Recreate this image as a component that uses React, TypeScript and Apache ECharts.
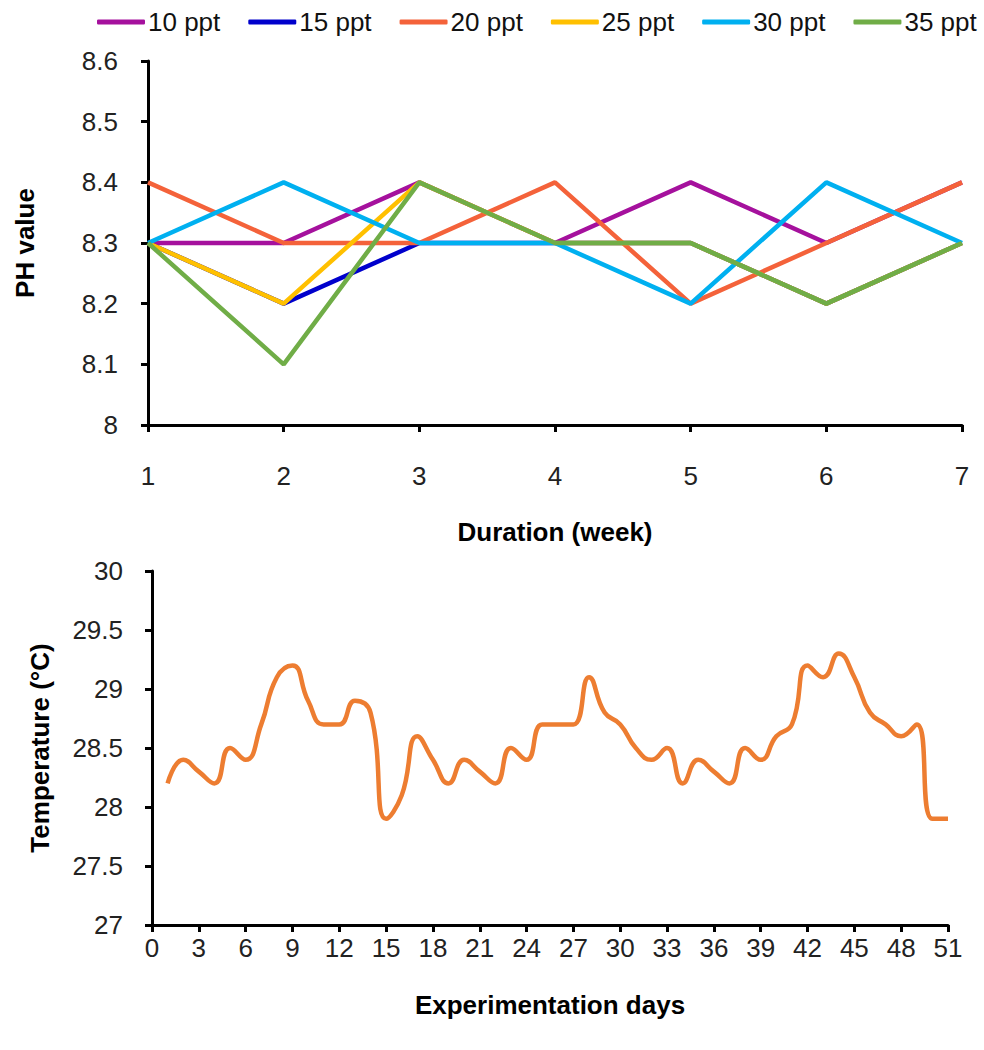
import React, { useEffect, useRef } from "react";
import * as echarts from "echarts";

const weeks = [1, 2, 3, 4, 5, 6, 7];
const ph10 = [8.3, 8.3, 8.4, 8.3, 8.4, 8.3, 8.4];
const ph15 = [8.3, 8.2, 8.3, 8.3, 8.3, 8.2, 8.3];
const ph20 = [8.4, 8.3, 8.3, 8.4, 8.2, 8.3, 8.4];
const ph25 = [8.3, 8.2, 8.4, 8.3, 8.3, 8.2, 8.3];
const ph30 = [8.3, 8.4, 8.3, 8.3, 8.2, 8.4, 8.3];
const ph35 = [8.3, 8.1, 8.4, 8.3, 8.3, 8.2, 8.3];
const phNames = ["10 ppt", "15 ppt", "20 ppt", "25 ppt", "30 ppt", "35 ppt"];
const phColors = ["#A5119D", "#0000CC", "#F4623A", "#FFC000", "#00B0F0", "#70AD47"];

const days = [
  1, 2, 3, 4, 5, 6, 7, 8, 9, 10, 11, 12, 13, 14, 15, 16, 17, 18, 19, 20, 21, 22, 23, 24, 25, 26,
  27, 28, 29, 30, 31, 32, 33, 34, 35, 36, 37, 38, 39, 40, 41, 42, 43, 44, 45, 46, 47, 48, 49, 50, 51,
];
const temps = [
  28.2, 28.4, 28.3, 28.2, 28.5, 28.4, 28.7, 29.1, 29.2, 28.9, 28.7, 28.7, 28.9, 28.8, 27.9, 28.1,
  28.6, 28.4, 28.2, 28.4, 28.3, 28.2, 28.5, 28.4, 28.7, 28.7, 28.7, 29.1, 28.8, 28.7, 28.5, 28.4,
  28.5, 28.2, 28.4, 28.3, 28.2, 28.5, 28.4, 28.6, 28.7, 29.2, 29.1, 29.3, 29.1, 28.8, 28.7, 28.6,
  28.7, 27.9, 27.9,
];

const FONT = "'Liberation Sans', Arial, sans-serif";
const FS = 26;

export default function App() {
  const ref = useRef<HTMLDivElement>(null);
  useEffect(() => {
    document.body.style.margin = "0";
    const chart = echarts.init(ref.current!, null, { renderer: "svg" });
    const phData = [ph10, ph15, ph20, ph25, ph30, ph35];
    const axisLine = { show: true, lineStyle: { color: "#000", width: 3 } };
    const axisTick = { show: true, length: 7, lineStyle: { color: "#000", width: 3 } };
    const label = { color: "#222", fontSize: FS, fontFamily: FONT };
    const nameStyle = { color: "#000", fontSize: FS, fontWeight: "bold" as const, fontFamily: FONT };
    chart.setOption({
      animation: false,
      backgroundColor: "#fff",
      textStyle: { fontFamily: FONT },
      legend: {
        data: phNames,
        left: 92,
        top: 4,
        icon: "roundRect",
        itemWidth: 48,
        itemHeight: 5,
        itemGap: 28,
        textStyle: { fontSize: FS, color: "#111", fontFamily: FONT, padding: [0, 0, 0, -2] },
      },
      grid: [
        { left: 148, right: 22, top: 61, height: 364 },
        { left: 152, right: 36, top: 571, height: 354 },
      ],
      xAxis: [
        {
          gridIndex: 0,
          type: "value",
          min: 1,
          max: 7,
          interval: 1,
          splitLine: { show: false },
          axisLine,
          axisTick,
          axisLabel: { ...label, margin: 38 },
          name: "Duration (week)",
          nameLocation: "middle",
          nameGap: 94,
          nameTextStyle: nameStyle,
        },
        {
          gridIndex: 1,
          type: "value",
          min: 0,
          max: 51,
          interval: 3,
          splitLine: { show: false },
          axisLine,
          axisTick,
          axisLabel: { ...label, margin: 10 },
          name: "Experimentation days",
          nameLocation: "middle",
          nameGap: 67,
          nameTextStyle: nameStyle,
        },
      ],
      yAxis: [
        {
          gridIndex: 0,
          type: "value",
          min: 8,
          max: 8.6,
          interval: 0.1,
          splitLine: { show: false },
          axisLine,
          axisTick,
          axisLabel: { ...label, margin: 30 },
          name: "PH value",
          nameLocation: "middle",
          nameGap: 110,
          nameTextStyle: nameStyle,
        },
        {
          gridIndex: 1,
          type: "value",
          min: 27,
          max: 30,
          interval: 0.5,
          splitLine: { show: false },
          axisLine,
          axisTick,
          axisLabel: { ...label, margin: 29 },
          name: "Temperature (°C)",
          nameLocation: "middle",
          nameGap: 99,
          nameTextStyle: nameStyle,
        },
      ],
      series: [
        ...phNames.map((n, i) => ({
          name: n,
          type: "line",
          xAxisIndex: 0,
          yAxisIndex: 0,
          symbol: "none",
          color: phColors[i],
          lineStyle: { width: 4.5, color: phColors[i] },
          data: weeks.map((w, j) => [w, phData[i][j]]),
        })),
        {
          name: "Temperature",
          type: "line",
          xAxisIndex: 1,
          yAxisIndex: 1,
          symbol: "none",
          smooth: 0.5,
          color: "#ED7D31",
          lineStyle: { width: 4.5, color: "#ED7D31" },
          data: days.map((d, j) => [d, temps[j]]),
        },
      ],
    });
    return () => chart.dispose();
  }, []);
  return <div ref={ref} style={{ width: 984, height: 1050 }} />;
}
